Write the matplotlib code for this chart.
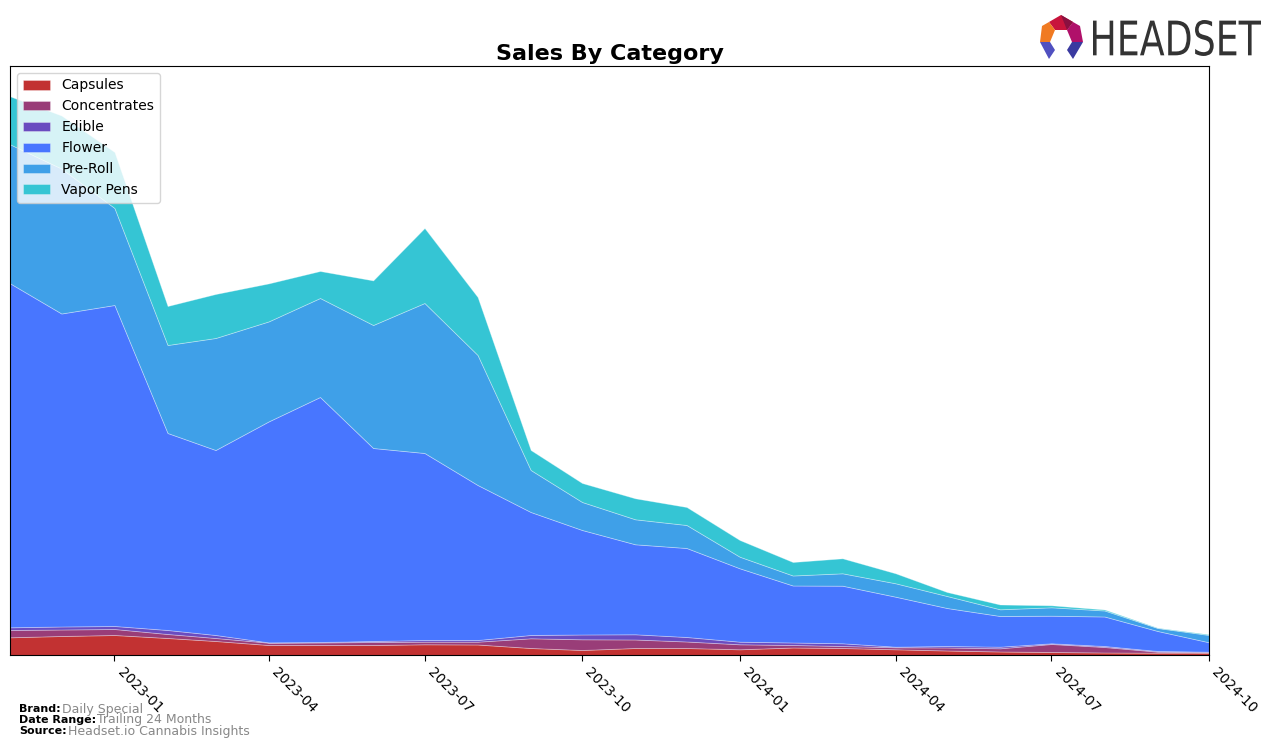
import matplotlib
matplotlib.use("Agg")
import matplotlib.pyplot as plt
import matplotlib.dates as mdates
import numpy as np
import pandas as pd
from matplotlib.textpath import TextPath
from matplotlib.font_manager import FontProperties
from matplotlib.patches import PathPatch, Polygon
from matplotlib.transforms import Affine2D

# ---------------- data (monthly, arbitrary sales units) ----------------
months = pd.date_range("2022-11-01", periods=24, freq="MS")
categories = ["Capsules", "Concentrates", "Edible", "Flower", "Pre-Roll", "Vapor Pens"]

capsules = [17.7, 19, 20, 17, 14, 10, 10, 10, 10.7, 10.5, 7, 5,
            7, 7, 5.7, 7.5, 7, 5.7, 4.5, 3.5, 3, 2.5, 2.3, 2.3]
concentrates = [7.3, 6.5, 6, 4, 3, 2.3, 2.5, 3, 2.6, 2.8, 9.7, 10.7,
                8.5, 6.5, 5, 2.5, 2, 2, 3, 3.2, 8, 5.5, 1, 0.4]
edible = [2.7, 3, 3, 4, 3, 0.3, 0.5, 1, 1.7, 1.7, 3.3, 4.8,
          5.2, 4.5, 2.6, 2.5, 2.7, 0.6, 1.5, 1.6, 0.7, 1, 0.7, 0.6]
flower = [344, 313, 321, 197, 185, 221, 245, 193, 187, 155, 123, 104.5,
          90, 89, 73.4, 57, 57.6, 50, 38, 30.7, 27.6, 29.5, 20, 9.4]
pre_roll = [139, 145, 97, 88, 112, 100, 99, 123, 150, 130, 42, 28,
            25, 23, 11.6, 10, 12.4, 13.4, 12, 6.7, 8.4, 6, 3, 7.3]
vapor_pens = [48, 53, 56, 39, 44, 38, 27, 44.6, 75, 58, 20, 19,
              21, 18, 16.7, 13.5, 15, 10, 4, 4.8, 2, 1, 0.3, 0.7]

colors = ["#c23232", "#993d78", "#6a4cc0", "#4876ff", "#3fa0e8", "#35c5d4"]

# ---------------- figure ----------------
W, H = 1276, 747
fig = plt.figure(figsize=(W / 100, H / 100), dpi=100)
ax = fig.add_axes([10 / W, 1 - 655 / H, (1209 - 10) / W, (655 - 66) / H])

series = [capsules, concentrates, edible, flower, pre_roll, vapor_pens]
ax.stackplot(months, *series, labels=categories, colors=colors,
             edgecolor=(1, 1, 1, 0.35), linewidth=0.6)

ax.set_xlim(months[0], months[-1])
ax.set_ylim(0, 589)
ax.set_yticks([])
ticks = pd.date_range("2023-01-01", "2024-10-01", freq="3MS")
ax.set_xticks(ticks)
ax.set_xticklabels([t.strftime("%Y-%m") for t in ticks], rotation=-45,
                   ha="left", fontsize=10)
ax.tick_params(axis="x", length=4)

ax.set_title("Sales By Category", fontsize=16, fontweight="bold", pad=4)

leg = ax.legend(loc="upper left", fontsize=10, framealpha=0.8,
                borderaxespad=0.5, handlelength=2.0)

# ---------------- footer ----------------
def footer(y, label, value):
    t = fig.text(19 / W, 1 - y / H, label, fontsize=8, fontweight="bold",
                 color="black", va="center", ha="left")
    fig.canvas.draw()
    bb = t.get_window_extent()
    fig.text((bb.x1 + 1) / W, 1 - y / H, value, fontsize=9, color="#888888",
             va="center", ha="left")

footer(709, "Brand:", "Daily Special")
footer(720, "Date Range:", "Trailing 24 Months")
footer(731, "Source:", "Headset.io Cannabis Insights")

# ---------------- logo ----------------
fp = FontProperties(family="DejaVu Sans", weight="normal")
tp = TextPath((0, 0), "HEADSET", size=100, prop=fp)
ext = tp.get_extents()
tw, th = ext.width, ext.height
x0, x1, ytop, ybot = 1093, 1261, 20, 56
sx = (x1 - x0) / tw
sy = (ybot - ytop) / th
tr = Affine2D().translate(-ext.x0, -ext.y0).scale(sx, sy).translate(x0, H - ybot)
logo_path = tr.transform_path(tp)
fig.patches.append(PathPatch(logo_path, facecolor="#333333", edgecolor="none",
                             transform=None, figure=fig))

def poly(pts, color):
    p = Polygon([(x, H - y) for x, y in pts], closed=True, facecolor=color,
                edgecolor="none", transform=None, figure=fig)
    fig.patches.append(p)

poly([(1049, 22), (1061, 15), (1073, 22), (1067, 30), (1055, 30)], "#c8143c")
poly([(1049, 22), (1055, 30), (1050, 42), (1040, 42), (1042, 26)], "#f07a22")
poly([(1073, 22), (1080, 26), (1083, 42), (1072, 42), (1067, 30)], "#b0106a")
poly([(1061, 15), (1073, 22), (1067, 30)], "#8a1040")
poly([(1040, 42), (1050, 42), (1055, 50), (1049, 59)], "#5050c0")
poly([(1072, 42), (1083, 42), (1073, 59), (1067, 50)], "#3a3aa0")

fig.savefig("out.png", dpi=100)
